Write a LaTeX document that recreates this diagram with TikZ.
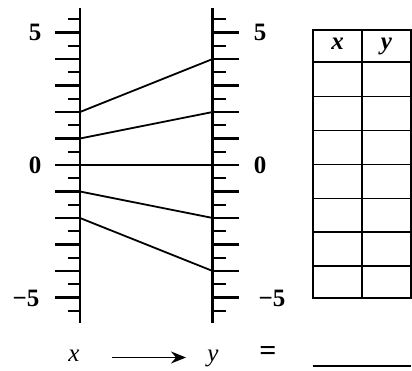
\documentclass[tikz,border=0pt]{standalone}
\usepackage{fontspec}
\setmainfont{Liberation Serif}
\usetikzlibrary{arrows.meta}
\begin{document}
\begin{tikzpicture}[x=1pt,y=-1pt,
  axisline/.style={line width=2.6pt},
  tickmark/.style={line width=2.2pt},
  mapline/.style={line width=1.8pt},
  tabline/.style={line width=1.8pt},
  numlabel/.style={font=\fontsize{25}{25}\selectfont\bfseries, inner sep=0pt},
  varlabel/.style={font=\fontsize{25}{25}\selectfont\itshape, inner sep=0pt},
  headlabel/.style={font=\fontsize{25}{25}\selectfont\bfseries\itshape, inner sep=0pt}]
\useasboundingbox (0,0) rectangle (412,371);
% scale: value v -> y = 165 - 26.5 v
\def\U{26.5}
% axes
\coordinate (ltop) at (80,8);
\coordinate (lbot) at (80,323);
\coordinate (rtop) at (212.7,8);
\coordinate (rbot) at (212.7,323);
\draw[axisline] (ltop) -- (lbot);
\draw[axisline] (rtop) -- (rbot);
% ticks
\foreach \v in {-5,...,5} {
  \draw[tickmark] (55,{165-\U*\v}) -- (80,{165-\U*\v});
  \draw[tickmark] (212.7,{165-\U*\v}) -- (239,{165-\U*\v});
}
\foreach \v in {-5.5,-4.5,...,5.5} {
  \draw[tickmark] (67.5,{165-\U*\v}) -- (80,{165-\U*\v});
  \draw[tickmark] (212.7,{165-\U*\v}) -- (226,{165-\U*\v});
}
% labels
\node[numlabel] (l5) at (35,32) {5};
\node[numlabel] (l0) at (35,165) {0};
\node[numlabel] (lm5) at (26,298) {−5};
\node[numlabel] (r5) at (260,32) {5};
\node[numlabel] (r0) at (260,165) {0};
\node[numlabel] (rm5) at (272,298) {−5};
% mapping lines
\foreach \a/\b [count=\i] in {2/4,1/2,0/0,-1/-2,-2/-4} {
  \coordinate (a\i) at (80,{165-\U*\a});
  \coordinate (b\i) at (212.7,{165-\U*\b});
  \draw[mapline] (a\i) -- (b\i);
}
% table
\coordinate (tl) at (312.7,30);
\coordinate (br) at (410.7,298);
\draw[tabline] (tl) rectangle (br);
\draw[tabline] (362.3,30) -- (362.3,298);
\foreach \yy in {62,96.5,130.5,164.5,198.5,232,266} {
  \draw[tabline] (312.7,\yy) -- (410.7,\yy);
}
\node[headlabel] (hx) at (337.5,44) {x};
\node[headlabel] (hy) at (386.5,46) {y};
% bottom row
\node[varlabel] (bx) at (74,356) {x};
\node[varlabel] (by) at (213,358) {y};
\coordinate (as) at (112,357.5);
\coordinate (ae) at (186,357.5);
\draw[line width=1.8pt, -{Stealth[length=15pt,width=12pt,inset=5pt]}] (as) -- (ae);
\node[numlabel, font=\fontsize{30}{30}\selectfont\bfseries] (eq) at (268,353) {=};
\coordinate (u1) at (312.7,366);
\coordinate (u2) at (410.7,366);
\draw[line width=1.8pt] (u1) -- (u2);
\end{tikzpicture}
\end{document}
